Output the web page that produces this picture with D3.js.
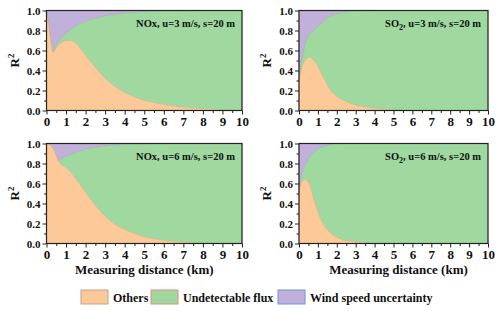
<!DOCTYPE html>
<html>
<head>
<meta charset="utf-8">
<script src="https://cdn.jsdelivr.net/npm/d3@7"></script>
<style>
  body { margin: 0; background: #fff; }
  text { font-family: "Liberation Serif", "Times New Roman", serif; font-weight: bold; fill: #111; }
</style>
</head>
<body>
<svg id="chart" width="500" height="311"></svg>
<script>
// legend / layer names
var layerNames = ["Others", "Undetectable flux", "Wind speed uncertainty"]

// NOx, u=3 m/s
var nox3X      = [0, 0.1, 0.2, 0.33, 0.5, 0.7, 1.0, 1.2, 1.5, 2, 2.5, 3, 3.5, 4, 5, 6, 7, 8, 9, 10]
var nox3Others = [1.0, 0.86, 0.72, 0.58, 0.62, 0.67, 0.695, 0.70, 0.67, 0.55, 0.43, 0.32, 0.24, 0.18, 0.10, 0.06, 0.03, 0.015, 0.005, 0]
var nox3Flux   = [0, 0.005, 0.005, 0.005, 0.04, 0.04, 0.075, 0.10, 0.17, 0.34, 0.49, 0.625, 0.72, 0.79, 0.885, 0.933, 0.967, 0.985, 0.995, 1.0]
var nox3Wind   = [0, 0.135, 0.275, 0.415, 0.34, 0.29, 0.23, 0.20, 0.16, 0.11, 0.08, 0.055, 0.04, 0.03, 0.015, 0.007, 0.003, 0, 0, 0]

// SO2, u=3 m/s
var so3X      = [0, 0.2, 0.4, 0.55, 0.7, 0.9, 1.1, 1.25, 1.4, 1.6, 2, 2.5, 3, 3.5, 4, 5, 6, 8, 10]
var so3Others = [0.29, 0.45, 0.515, 0.53, 0.515, 0.47, 0.40, 0.34, 0.29, 0.22, 0.14, 0.087, 0.053, 0.033, 0.02, 0.005, 0, 0, 0]
var so3Flux   = [0.01, 0.10, 0.185, 0.225, 0.275, 0.35, 0.455, 0.54, 0.62, 0.715, 0.825, 0.898, 0.942, 0.965, 0.98, 0.995, 1, 1, 1]
var so3Wind   = [0.70, 0.45, 0.30, 0.245, 0.21, 0.18, 0.145, 0.12, 0.09, 0.065, 0.035, 0.015, 0.005, 0.002, 0, 0, 0, 0, 0]

// NOx, u=6 m/s
var nox6X      = [0, 0.2, 0.36, 0.45, 0.62, 0.8, 1.05, 1.4, 2, 2.5, 3, 3.5, 4, 5, 6, 7, 8, 9, 10]
var nox6Others = [1.0, 0.98, 0.94, 0.90, 0.82, 0.78, 0.75, 0.67, 0.51, 0.38, 0.27, 0.19, 0.14, 0.065, 0.03, 0.012, 0.004, 0, 0]
var nox6Flux   = [0, 0.003, 0.005, 0.005, 0.01, 0.07, 0.12, 0.23, 0.43, 0.58, 0.705, 0.795, 0.85, 0.932, 0.97, 0.988, 0.996, 1, 1]
var nox6Wind   = [0, 0.017, 0.055, 0.095, 0.17, 0.15, 0.13, 0.10, 0.06, 0.04, 0.025, 0.015, 0.01, 0.003, 0, 0, 0, 0, 0]

// SO2, u=6 m/s
var so6X      = [0, 0.16, 0.32, 0.55, 0.81, 1.08, 1.43, 1.78, 2.3, 3, 4, 5, 10]
var so6Others = [0.49, 0.62, 0.64, 0.59, 0.42, 0.27, 0.153, 0.087, 0.037, 0.015, 0, 0, 0]
var so6Flux   = [0.01, 0.07, 0.135, 0.27, 0.49, 0.68, 0.822, 0.906, 0.963, 0.985, 1, 1, 1]
var so6Wind   = [0.50, 0.31, 0.225, 0.14, 0.09, 0.05, 0.025, 0.007, 0, 0, 0, 0, 0]

var xTicks = [0, 1, 2, 3, 4, 5, 6, 7, 8, 9, 10]
var yTicks = [0, 0.2, 0.4, 0.6, 0.8, 1.0]

var fills  = ["#fdc999", "#9fd99f", "#c1b0d9"]
var edges  = ["#e8b080", "#8cc48c", "#a898c8"]
var legendBorders = ["#c0a488", "#e88a80", "#6f94e0"]

var panels = [
  {x: nox3X, v: [nox3Others, nox3Flux, nox3Wind], gas: "NOx", sub: "", u: 3, box: [46.5, 242, 10.5, 110.5]},
  {x: so3X,  v: [so3Others, so3Flux, so3Wind],    gas: "SO", sub: "2", u: 3, box: [299, 488, 10.5, 110.5]},
  {x: nox6X, v: [nox6Others, nox6Flux, nox6Wind], gas: "NOx", sub: "", u: 6, box: [46.5, 242, 143.5, 243.5]},
  {x: so6X,  v: [so6Others, so6Flux, so6Wind],    gas: "SO", sub: "2", u: 6, box: [299, 488, 143.5, 243.5]}
]

var svg = d3.select("#chart")
var keys = ["a", "b", "c"]

panels.forEach(function(p, pi) {
  var x = d3.scaleLinear().domain([0, 10]).range([p.box[0], p.box[1]])
  var y = d3.scaleLinear().domain([0, 1]).range([p.box[3], p.box[2]])
  var rows = p.x.map(function(d, i) { return {x: d, a: p.v[0][i], b: p.v[1][i], c: p.v[2][i]} })
  var series = d3.stack().keys(keys)(rows)

  var area = d3.area()
    .x(function(d) { return x(d.data.x) })
    .y0(function(d) { return y(d[0]) })
    .y1(function(d) { return y(d[1]) })
    .curve(d3.curveMonotoneX)

  var g = svg.append("g")
  g.selectAll("path.layer")
    .data(series.slice().reverse())
    .enter().append("path")
      .attr("class", "layer")
      .attr("d", area)
      .attr("fill", function(d) { return fills[d.index] })
      .attr("stroke", function(d) { return edges[d.index] })
      .attr("stroke-width", 0.5)

  // axes
  var xAxis = d3.axisBottom(x).tickValues(xTicks).tickSize(4).tickPadding(1).tickFormat(d3.format("d"))
  var xMinor = d3.axisBottom(x).tickValues(d3.range(0.5, 10, 1)).tickSize(2.5).tickFormat("")
  var yAxis = d3.axisLeft(y).tickValues(yTicks).tickSize(4).tickPadding(2).tickFormat(d3.format(".1f"))
  var yMinor = d3.axisLeft(y).tickValues(d3.range(0.1, 1, 0.2)).tickSize(2.5).tickFormat("")

  var gx = g.append("g").attr("transform", "translate(0," + p.box[3] + ")").call(xAxis)
  gx.selectAll("text").style("font-size", "13px").attr("dy", "0.8em")
  g.append("g").attr("transform", "translate(0," + p.box[3] + ")").call(xMinor)
  var gy = g.append("g").attr("transform", "translate(" + p.box[0] + ",0)").call(yAxis)
  gy.selectAll("text").style("font-size", "11px")
  g.append("g").attr("transform", "translate(" + p.box[0] + ",0)").call(yMinor)
  g.selectAll(".domain").remove()
  g.selectAll(".tick line").attr("stroke", "#222").attr("stroke-width", 1)

  g.append("rect")
    .attr("x", p.box[0]).attr("y", p.box[2])
    .attr("width", p.box[1] - p.box[0]).attr("height", p.box[3] - p.box[2])
    .attr("fill", "none").attr("stroke", "#222").attr("stroke-width", 1.2)

  // y title
  var yt = g.append("text")
    .attr("transform", "translate(" + (p.box[0] - 28) + "," + ((p.box[2] + p.box[3]) / 2) + ") rotate(-90)")
    .attr("text-anchor", "middle")
    .style("font-size", "13px")
  yt.append("tspan").text("R")
  yt.append("tspan").attr("dy", -5).style("font-size", "9px").text("2")

  // annotation
  var lab = g.append("text")
    .attr("x", p.box[1] - 7).attr("y", p.box[2] + 16)
    .attr("text-anchor", "end")
    .style("font-size", "10.5px")
  lab.append("tspan").text(p.gas)
  if (p.sub) {
    lab.append("tspan").attr("dy", 3).style("font-size", "8px").text(p.sub)
    lab.append("tspan").attr("dy", -3).text(", u=" + p.u + " m/s, s=20 m")
  } else {
    lab.append("tspan").text(", u=" + p.u + " m/s, s=20 m")
  }

  // x title on bottom row
  if (pi >= 2) {
    g.append("text")
      .attr("x", (p.box[0] + p.box[1]) / 2 + (pi == 3 ? 5 : 0)).attr("y", 274)
      .attr("text-anchor", "middle")
      .style("font-size", "13px")
      .text("Measuring distance (km)")
  }
})

// legend
var legendX = [81, 151, 278]
var leg = svg.append("g").selectAll("g")
  .data(layerNames)
  .enter().append("g")
    .attr("transform", function(d, i) { return "translate(" + legendX[i] + ",290)" })
leg.append("rect")
  .attr("width", 27).attr("height", 14)
  .attr("fill", function(d, i) { return fills[i] })
  .attr("stroke", function(d, i) { return legendBorders[i] })
  .attr("stroke-width", 1)
leg.append("text")
  .attr("x", 32).attr("y", 11.5)
  .style("font-size", "12px")
  .text(function(d) { return d })
</script>
</body>
</html>
